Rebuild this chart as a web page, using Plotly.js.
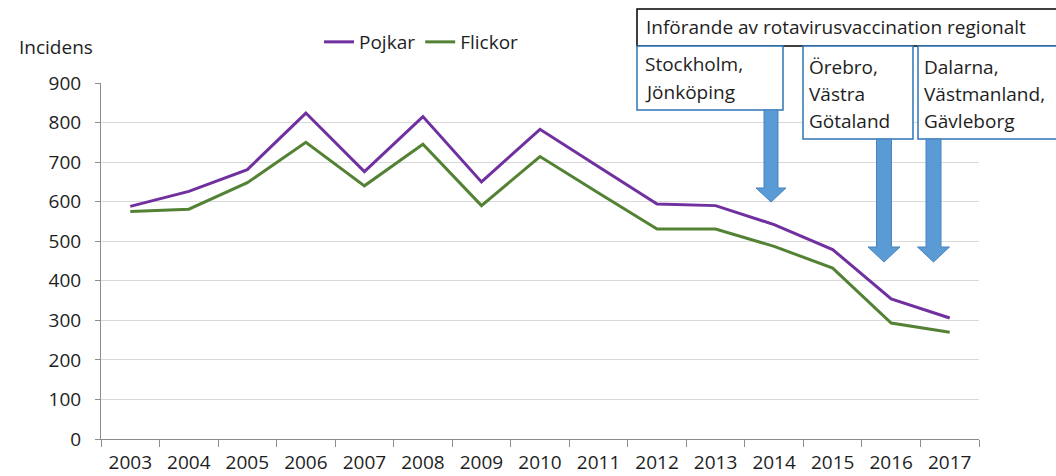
<!DOCTYPE html>
<html><head><meta charset="utf-8">
<script src="https://cdn.plot.ly/plotly-3.0.1.min.js"></script>
<style>html,body{margin:0;padding:0;background:#fff}#chart{width:1056px;height:476px}</style>
</head><body><div id="chart"></div>
<script>
const years = ['2003','2004','2005','2006','2007','2008','2009','2010','2011','2012','2013','2014','2015','2016','2017'];
const pojkar = [588,626,681,824,676,815,650,783,688,594,590,542,479,354,306];
const flickor = [575,581,648,750,640,745,590,714,622,531,531,487,432,293,270];
const seriesNames = ['Pojkar','Flickor'];
const yTicks = [0,100,200,300,400,500,600,700,800,900];
const yTitle = 'Incidens';
const headerText = 'Införande av rotavirusvaccination regionalt';
const regionLines = [
  ['Stockholm,','Jönköping'],
  ['Örebro,','Västra','Götaland'],
  ['Dalarna,','Västmanland,','Gävleborg']
];

const W=1056,H=476,L=101,R=77,T=83,B=37;
const px = x => (x-L)/(W-L-R);
const py = y => 1-(y-T)/(H-T-B);
const FONT = 'Open Sans, Liberation Sans, Arial, sans-serif';
const TXT = '#1e1e1e';

function arrow(cx, top, headTop, tip, sw, hw){
  const pts = [[cx-sw/2,top],[cx+sw/2,top],[cx+sw/2,headTop],[cx+hw/2,headTop],[cx,tip],[cx-hw/2,headTop],[cx-sw/2,headTop]];
  return {type:'path', xref:'paper', yref:'paper', layer:'above',
    path: 'M' + pts.map(p=>px(p[0]).toFixed(5)+','+py(p[1]).toFixed(5)).join(' L') + ' Z',
    fillcolor:'#5B9BD5', line:{color:'#4A84BC', width:1}};
}
function rect(x0,y0,x1,y1,color){
  return {type:'rect', xref:'paper', yref:'paper', layer:'above',
    x0:px(x0), x1:px(x1), y0:py(y1), y1:py(y0), fillcolor:'#ffffff', line:{color:color, width:1.5}};
}
function label(text,x,y){
  return {text:text, xref:'paper', yref:'paper', x:px(x), y:py(y), xanchor:'left', yanchor:'middle',
    showarrow:false, font:{family:FONT, size:19, color:TXT}};
}

const shapes = [
  rect(637,9,1062,46,'#000000'),
  rect(637,46,783,110,'#2E75B6'),
  rect(803,46,913,139,'#2E75B6'),
  rect(918,46,1062,139,'#2E75B6'),
  arrow(771,110,188,202,14,30),
  arrow(884,139,247,262,15,32),
  arrow(933.5,139,247,262,15,32)
];
const annotations = [
  label(yTitle,17,47),
  label(headerText,644,27),
  label(regionLines[0][0],643,64), label(regionLines[0][1],643,92),
  label(regionLines[1][0],807,67), label(regionLines[1][1],807,94), label(regionLines[1][2],807,121),
  label(regionLines[2][0],922,67), label(regionLines[2][1],922,94), label(regionLines[2][2],922,121)
];

const data = [
  {x:years, y:pojkar, name:seriesNames[0], type:'scatter', mode:'lines', line:{color:'#7030A0', width:3}},
  {x:years, y:flickor, name:seriesNames[1], type:'scatter', mode:'lines', line:{color:'#548235', width:3}}
];
const layout = {
  width:W, height:H, margin:{l:L,r:R,t:T,b:B,pad:0},
  paper_bgcolor:'#fff', plot_bgcolor:'#fff',
  font:{family:FONT, size:19, color:TXT},
  showlegend:true,
  legend:{orientation:'h', x:px(319), y:py(42), xanchor:'left', yanchor:'middle', font:{family:FONT,size:19,color:TXT}, bgcolor:'rgba(0,0,0,0)', itemwidth:30},
  xaxis:{type:'category', range:[-0.5,14.5], tickson:'boundaries', ticks:'outside', ticklen:7, tickcolor:'#8c8c8c', tickwidth:1,
    showline:true, linecolor:'#8c8c8c', linewidth:1, showgrid:false, zeroline:false, ticklabelstandoff:6,
    tickfont:{family:FONT,size:19,color:TXT}, fixedrange:true},
  yaxis:{range:[0,900], tickvals:yTicks, ticks:'outside', ticklen:5, tickcolor:'#8c8c8c', showline:true, linecolor:'#8c8c8c', linewidth:1,
    showgrid:true, gridcolor:'#d9d9d9', gridwidth:1, zeroline:false, ticklabelstandoff:10,
    tickfont:{family:FONT,size:19,color:TXT}, fixedrange:true},
  shapes:shapes, annotations:annotations
};
Plotly.newPlot('chart', data, layout, {displayModeBar:false, staticPlot:true});
</script></body></html>
